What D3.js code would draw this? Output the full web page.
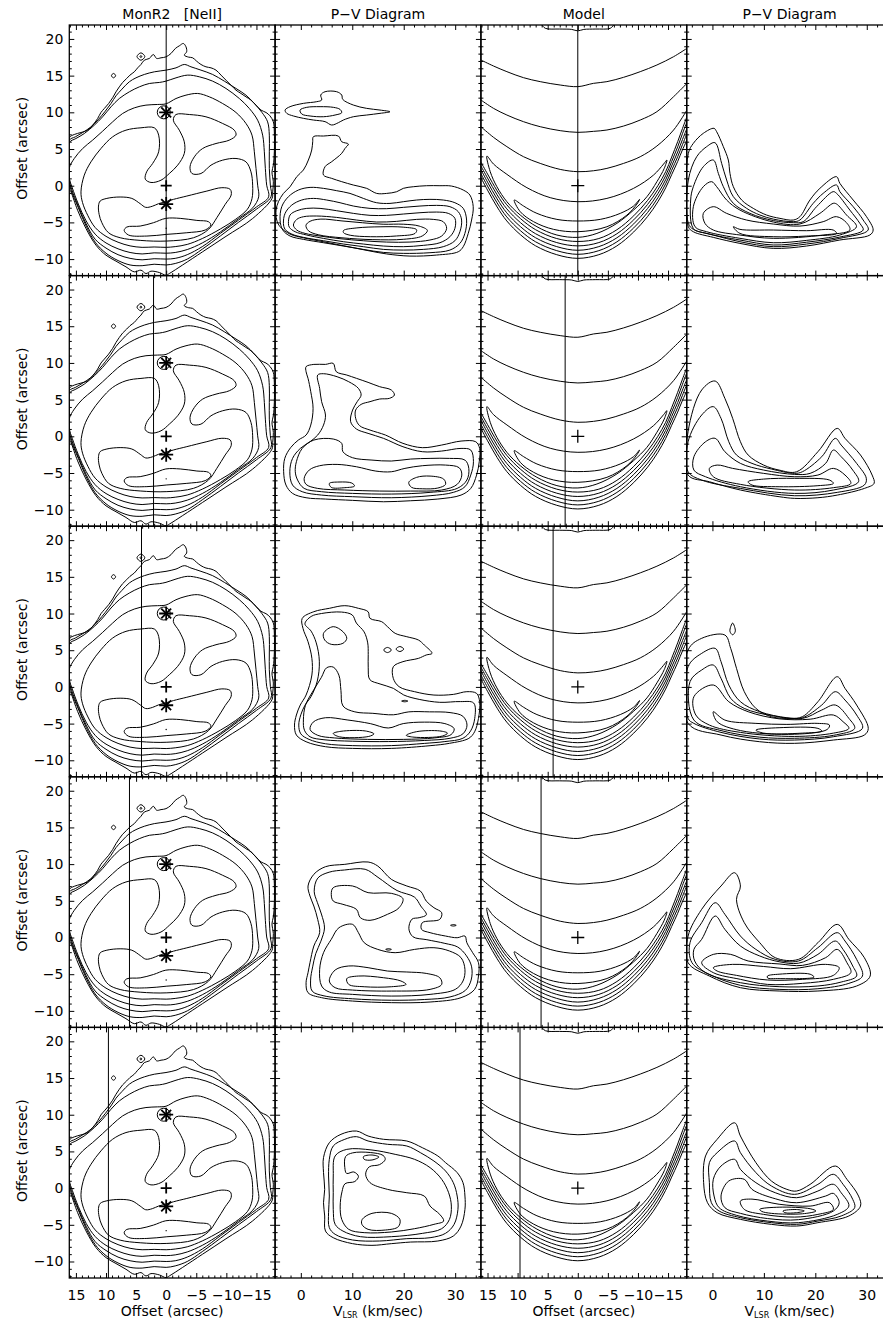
<!DOCTYPE html>
<html><head><meta charset="utf-8">
<script src="https://cdn.jsdelivr.net/npm/d3@7"></script>
<style>body{margin:0;background:#fff}</style>
</head><body>
<script>
// ---------------- DATA ----------------
const titles = ["MonR2\u00a0\u00a0\u00a0[NeII]", "P\u2212V Diagram", "Model", "P\u2212V Diagram"];
const offsetDomain = [16.1, -18.1];
const velDomain = [-5, 35];
const yDomain = [-12.25, 21.9];
const offsetTicks = [15, 10, 5, 0, -5, -10, -15];
const velTicks = [0, 10, 20, 30];
const yTicks = [20, 15, 10, 5, 0, -5, -10];
const slitOffsets = [0, 2.1, 4.1, 6.1, 9.6];

// Column 1: [NeII] map contours (offset, offset)
const neiiL1 = [[16.1,6.52],[15.27,6.98],[14.16,7.25],[13.05,7.57],[12.22,8.25],[11.39,9.16],[10.84,9.98],[10.28,10.52],[9.56,11.2],[8.9,11.98],[8.34,12.79],[7.79,13.47],[7.24,14.07],[6.57,14.61],[6.02,15.07],[5.3,15.52],[4.74,16.06],[4.19,16.52],[3.63,17.11],[2.8,17.34],[2.14,17.88],[1.58,17.34],[0.86,17.43],[0.03,17.56],[-0.8,18.02],[-1.52,18.7],[-2.18,19.06],[-2.85,19.38],[-3.29,18.93],[-3.4,18.25],[-3.01,17.79],[-3.73,17.52],[-4.4,17.43],[-5.06,16.97],[-5.78,16.52],[-6.61,16.2],[-7.45,16.06],[-8.28,15.75],[-9.11,15.07],[-9.94,14.38],[-10.77,13.7],[-11.6,13.02],[-12.43,12.57],[-13.26,12.11],[-14.09,11.66],[-14.93,10.98],[-15.76,10.3],[-16.59,9.98],[-17.25,9.52],[-17.81,8.7],[-17.97,7.34],[-17.97,4.62],[-17.81,2.8],[-17.58,1.89],[-17.81,0.53],[-17.7,-0.84],[-17.58,-1.75],[-14.37,-4.47],[-9.94,-6.9],[-6.06,-9.0],[-2.74,-10.8],[-0.52,-11.97],[0.03,-12.2],[1.14,-11.83],[2.53,-11.65],[3.36,-11.97],[4.19,-11.51],[5.3,-11.74],[6.68,-11.06],[8.34,-10.28],[10.0,-9.47],[11.67,-8.1],[13.33,-5.83],[14.72,-3.34],[15.82,-0.84],[16.1,-0.38]];
const neiiL2 = [[16.1,6.21],[15.1,6.66],[13.88,7.25],[12.5,8.02],[11.22,9.07],[10.12,10.16],[9.17,11.2],[8.34,12.25],[7.35,13.16],[6.13,14.16],[5.02,14.7],[3.63,15.16],[1.97,15.52],[0.03,15.75],[-1.63,16.06],[-3.01,16.52],[-4.12,16.2],[-5.78,15.75],[-7.72,15.16],[-9.66,14.25],[-11.6,13.25],[-13.26,12.34],[-14.65,11.2],[-15.92,9.98],[-16.86,8.7],[-17.14,6.89],[-17.14,4.62],[-17.14,2.34],[-17.31,0.07],[-17.42,-1.52],[-15,-3.2],[-12,-5.0],[-9,-6.85],[-6,-8.65],[-3.5,-10.0],[-1.5,-10.6],[0,-10.8],[2,-10.7],[4,-10.9],[6,-10.8],[8,-10.2],[10,-9.2],[11.8,-7.7],[13.3,-5.5],[14.6,-3.0],[15.8,-0.6],[16.1,0.5],[16.1,3.5]];
const neiiL3 = [[16.1,5.89],[15.0,6.43],[13.61,7.11],[11.94,8.25],[10.56,9.39],[9.17,10.75],[7.79,11.88],[6.13,12.79],[4.47,13.47],[2.8,13.93],[1.14,14.07],[0.03,14.25],[-1.63,14.7],[-3.57,15.07],[-5.51,14.84],[-7.72,14.25],[-9.94,13.25],[-12.16,11.88],[-13.82,10.52],[-15.2,8.93],[-16.03,6.89],[-16.31,4.62],[-16.48,2.34],[-16.7,0.07],[-17.03,-1.52],[-15,-2.9],[-12,-4.7],[-9,-6.5],[-6,-8.3],[-3.5,-9.4],[-1.5,-9.9],[0,-10.0],[2,-9.95],[4,-10.1],[6,-9.9],[8,-9.4],[10,-8.5],[11.8,-7.3],[13.3,-5.2],[14.6,-2.8],[15.7,-0.5],[16.1,0.8],[16.1,3.5]];
const neiiL4 = [[16.1,2.43],[15.27,3.71],[13.88,5.07],[12.22,6.21],[10.56,7.43],[8.9,8.7],[7.24,9.84],[5.3,10.61],[3.36,10.98],[1.42,11.07],[0.03,11.16],[-1.63,11.88],[-3.29,12.34],[-5.23,12.57],[-7.17,12.11],[-9.38,11.2],[-11.6,9.98],[-13.26,8.48],[-14.26,6.89],[-14.65,4.62],[-14.93,2.34],[-15.2,0.07],[-15.37,-1.52],[-14.4,-3.0],[-12,-4.5],[-9,-6.3],[-6,-7.8],[-3.5,-8.7],[-1.5,-9.1],[0,-9.2],[2,-9.15],[4,-9.3],[6,-9.1],[8,-8.6],[10,-7.8],[11.8,-6.6],[13.3,-4.8],[14.6,-2.5],[15.6,-0.3],[16.1,1.0]];
const neiiL5 = [[14.16,-0.84],[13.61,1.44],[12.5,3.25],[10.84,5.07],[8.9,6.66],[6.68,7.57],[4.19,7.89],[1.97,7.89],[1.25,6.89],[1.25,4.62],[2.25,3.03],[3.25,1.89],[3.47,0.89],[2.53,0.44],[0.86,0.75],[-0.52,1.66],[-1.91,2.8],[-3.01,4.39],[-3.01,5.98],[-2.18,7.57],[-1.19,8.93],[-1.63,9.7],[-3.84,9.7],[-6.61,9.39],[-9.38,8.48],[-11.32,7.57],[-11.6,6.89],[-10.49,6.21],[-8.28,5.75],[-6.06,5.07],[-4.68,3.93],[-3.96,2.57],[-4.29,1.66],[-5.78,1.66],[-7.45,2.8],[-9.38,3.48],[-11.6,3.71],[-13.26,3.25],[-14.09,1.89],[-14.37,0.07],[-14.26,-1.75],[-13.5,-3.2],[-11.5,-4.6],[-9,-5.9],[-6,-7.2],[-3.5,-8.0],[-1.5,-8.3],[0,-8.4],[2,-8.35],[4,-8.4],[6,-8.2],[8,-7.7],[10,-6.9],[11.8,-5.7],[13.0,-4.1],[13.9,-2.3]];
const neiiL6 = [[11.25,-2.77],[10.97,-2.09],[9.86,-1.73],[7.65,-1.54],[5.71,-1.73],[4.32,-2.45],[3.4,-2.95],[2.3,-2.8],[1.27,-2.45],[0.06,-2.18],[-1.22,-1.86],[-3.43,-1.41],[-6.76,-0.73],[-9.25,-0.27],[-10.64,-0.5],[-10.8,-1.27],[-9.81,-2.54],[-8.42,-4.36],[-7.04,-5.95],[-4.54,-7.09],[-0.11,-7.54],[4.32,-7.45],[7.65,-7.09],[9.58,-6.41],[10.69,-5.04],[11.14,-3.91]];
const neiiL7 = [[6.98,-6.09],[6.54,-5.63],[4.32,-5.5],[2.11,-5.04],[0.06,-4.45],[-2.33,-4.45],[-5.1,-4.73],[-7.04,-4.91],[-7.42,-5.36],[-6.48,-6.04],[-3.43,-6.41],[-0.11,-6.63],[3.21,-6.86],[6.26,-6.72]];
const neiiSpeck1 = [[9.1,15.0],[8.75,15.3],[8.4,15.0],[8.75,14.7]];
const neiiSpeck2 = [[4.85,17.6],[4.2,18.1],[3.55,17.6],[4.2,17.1]];
const neiiSpeck3 = [[4.35,17.6],[4.2,17.75],[4.05,17.6],[4.2,17.45]];
const starMarks = [[0,10],[0,-2.5]];
const circleMarks = [[0.4,10]];
const plusMarks = [[0,0]];
const dotMarks = [[0,-5.8]];

// Column 3: model map
const modelM1 = [[16.1,17.13],[14.0,16.31],[11.78,15.54],[9.01,14.72],[6.24,14.18],[2.92,13.72],[-0.02,13.5],[-2.62,13.95],[-4.84,14.18],[-7.61,14.77],[-10.38,15.54],[-13.15,16.45],[-15.92,17.58],[-18.14,18.72]];
const modelM2 = [[16.1,11.68],[14.0,10.54],[11.78,9.63],[9.01,8.72],[6.24,8.04],[2.92,7.5],[-0.02,7.27],[-2.62,7.41],[-4.84,7.59],[-7.61,8.13],[-10.38,8.95],[-13.15,10.09],[-15.92,12.13],[-18.14,13.95]];
const modelM3 = [[16.1,8.04],[14.0,6.59],[11.78,5.32],[9.01,3.95],[6.24,3.04],[2.92,2.22],[-0.02,1.91],[-2.62,2.04],[-4.84,2.36],[-7.61,3.04],[-10.38,3.95],[-13.15,5.41],[-15.92,7.59],[-18.14,10.31]];
const modelShell0 = [[16.1,3.2],[15.0,1.6],[13.4,-0.7],[11.8,-2.6],[9.5,-4.5],[7.0,-6.0],[3.5,-7.2],[0,-7.6],[-3.5,-7.2],[-6.5,-6.0],[-9.3,-4.1],[-11.6,-2.0],[-13.3,0.0],[-14.6,1.9],[-15.6,3.9],[-16.6,6.0],[-17.4,7.8],[-18.14,9.4]];
const modelShell1 = [[16.1,2.7],[15.0,1.05],[13.4,-1.25],[11.8,-3.15],[9.5,-5.05],[7.0,-6.55],[3.5,-7.75],[0,-8.2],[-3.5,-7.75],[-6.5,-6.55],[-9.3,-4.65],[-11.6,-2.55],[-13.3,-0.55],[-14.6,1.35],[-15.6,3.3],[-16.6,5.3],[-17.4,7.1],[-18.14,8.7]];
const modelShell2 = [[16.1,2.2],[15.0,0.5],[13.4,-1.8],[11.8,-3.7],[9.5,-5.6],[7.0,-7.1],[3.5,-8.3],[0,-8.8],[-3.5,-8.3],[-6.5,-7.1],[-9.3,-5.2],[-11.6,-3.1],[-13.3,-1.1],[-14.6,0.8],[-15.6,2.7],[-16.6,4.6],[-17.4,6.3],[-18.14,7.8]];
const modelShell3 = [[16.1,1.65],[15.0,-0.05],[13.4,-2.35],[11.8,-4.25],[9.5,-6.15],[7.0,-7.65],[3.5,-8.85],[0,-9.35],[-3.5,-8.85],[-6.5,-7.65],[-9.3,-5.75],[-11.6,-3.65],[-13.3,-1.65],[-14.6,0.25],[-15.6,2.1],[-16.6,3.95],[-17.4,5.6],[-18.14,7.1]];
const modelShell4 = [[16.1,1.1],[15.0,-0.6],[13.4,-2.9],[11.8,-4.8],[9.5,-6.7],[7.0,-8.2],[3.5,-9.4],[0,-9.9],[-3.5,-9.4],[-6.5,-8.2],[-9.3,-6.3],[-11.6,-4.2],[-13.3,-2.2],[-14.6,-0.3],[-15.6,1.5],[-16.6,3.3],[-17.4,4.9],[-18.14,6.2]];
const modelEdge = [[6.0,21.95],[5.4,21.45],[3,21.35],[1,21.3],[0,21.1],[-1,21.3],[-3,21.35],[-5.4,21.45],[-6.0,21.95]];
const modelCrescentOuter = [[15.1,4.04],[14.0,2.95],[11.78,1.55],[8.45,-0.27],[4.58,-1.63],[-0.02,-2.18],[-4.84,-1.73],[-9.27,-0.36],[-12.6,1.46],[-14.26,2.95],[-14.81,3.5],[-14.37,2.36],[-13.15,0.55],[-11.49,-1.5],[-9.27,-3.32],[-6.5,-5.13],[-3.18,-6.5],[-0.02,-7.04],[3.47,-6.72],[6.79,-5.59],[9.56,-4.0],[11.78,-2.18],[13.44,-0.14],[14.55,1.91]];
const modelCrescentInner = [[10.56,-1.95],[9.01,-2.77],[6.79,-3.77],[3.47,-4.59],[-0.02,-4.81],[-3.73,-4.59],[-7.06,-3.77],[-9.27,-2.77],[-10.27,-1.86],[-9.83,-2.5],[-8.17,-4.0],[-4.84,-5.59],[-0.02,-6.27],[4.02,-5.95],[7.35,-4.9],[9.56,-3.54]];

// Column 2: observed P-V diagrams (velocity, offset), one set per row
const pv1Blob = [[-3.06,10.31],[-2.09,10.77],[0.5,11.22],[3.09,11.45],[4.06,11.68],[3.87,12.36],[4.71,12.81],[6.97,12.81],[7.95,12.36],[8.14,11.77],[10.21,10.99],[12.8,10.54],[15.39,10.31],[17.33,10.08],[15.39,9.86],[12.8,9.63],[10.21,9.4],[8.27,8.95],[7.3,8.59],[6.0,8.27],[4.71,8.73],[2.44,8.95],[0.5,9.18],[-1.44,9.5],[-2.73,9.86]];
const pv1BlobIn = [[-0.15,10.31],[1.15,10.68],[3.74,10.77],[6.33,10.68],[7.62,10.4],[7.95,9.95],[6.65,9.63],[4.39,9.4],[1.8,9.5],[0.18,9.77]];
const pv1C1 = [[2.44,6.68],[4.39,6.77],[7.3,6.77],[7.95,5.99],[9.24,5.68],[8.59,5.09],[7.95,4.41],[6.0,3.27],[4.71,2.59],[4.39,1.46],[6.0,1.0],[7.95,0.55],[10.21,0.09],[12.8,-0.36],[14.74,-1.05],[16.68,-1.05],[18.63,-0.82],[19.92,-0.36],[21.86,-0.14],[24.45,0.0],[27.04,0.0],[29.3,-0.05],[31.57,-0.59],[32.86,-1.27],[33.51,-2.86],[33.19,-4.68],[32.54,-6.5],[31.57,-8.31],[30.6,-9.0],[26.39,-9.45],[21.21,-9.59],[16.68,-9.3],[13.45,-8.9],[10.21,-8.45],[6.97,-8.0],[3.74,-7.55],[0.5,-7.1],[-2.09,-6.6],[-4.03,-5.59],[-4.68,-4.68],[-4.81,-3.32],[-4.35,-2.18],[-3.38,-1.05],[-2.09,-0.14],[-0.79,1.23],[0.5,2.14],[1.47,3.5],[2.12,4.86],[2.31,6.0]];
const pv1C2 = [[-4.03,-4.68],[-3.71,-2.86],[-2.41,-1.5],[-0.47,-0.59],[1.8,-0.23],[4.39,-0.36],[6.97,-0.68],[9.56,-1.05],[12.15,-1.73],[14.74,-2.32],[17.33,-2.41],[19.92,-2.18],[22.51,-1.95],[25.1,-1.86],[27.69,-1.95],[29.95,-2.32],[31.57,-3.09],[32.22,-4.68],[31.89,-6.5],[30.92,-7.86],[28.98,-8.77],[25.1,-9.13],[19.92,-9.22],[16.04,-9.09],[12.15,-8.68],[8.27,-8.22],[4.39,-7.77],[0.5,-7.31],[-2.09,-6.86],[-3.51,-6.04]];
const pv1C3 = [[-3.38,-5.13],[-3.06,-3.77],[-1.76,-2.64],[0.18,-1.95],[2.44,-1.73],[5.03,-1.95],[7.62,-2.32],[10.21,-2.77],[13.45,-3.09],[16.68,-3.13],[19.92,-2.95],[23.16,-2.77],[26.39,-2.68],[28.98,-2.86],[30.6,-3.54],[31.25,-4.68],[30.92,-6.27],[29.95,-7.5],[27.69,-8.31],[23.8,-8.68],[19.92,-8.77],[16.04,-8.68],[12.15,-8.31],[8.27,-7.95],[4.39,-7.5],[0.5,-7.04],[-1.76,-6.59],[-3.06,-5.95]];
const pv1C4 = [[-2.41,-5.13],[-2.09,-3.99],[-0.79,-3.41],[1.15,-3.09],[3.74,-3.09],[6.97,-3.41],[10.21,-3.77],[13.45,-4.04],[16.68,-4.04],[19.92,-3.86],[23.16,-3.68],[26.39,-3.59],[28.66,-3.77],[29.95,-4.45],[29.95,-5.81],[28.98,-6.95],[27.04,-7.77],[23.8,-8.13],[19.92,-8.31],[16.04,-8.22],[12.15,-7.95],[8.27,-7.63],[4.39,-7.18],[1.15,-6.72],[-1.12,-6.27],[-2.22,-5.68]];
const pv1C5 = [[-1.44,-5.36],[-0.79,-4.59],[0.5,-4.23],[3.09,-4.13],[6.97,-4.32],[10.86,-4.68],[14.74,-4.95],[18.63,-4.86],[22.51,-4.59],[25.74,-4.59],[27.69,-4.91],[28.34,-5.81],[27.37,-6.86],[25.1,-7.4],[21.21,-7.68],[16.68,-7.68],[12.15,-7.5],[7.62,-7.22],[3.74,-6.86],[0.83,-6.5],[-0.79,-6.04]];
const pv1C6 = [[1.0,-5.4],[1.8,-4.85],[3.9,-4.55],[8,-4.8],[12,-5.05],[16,-5.25],[20,-5.25],[23,-5.5],[24.6,-6.1],[23.6,-6.85],[20,-7.3],[14,-7.35],[8,-7.1],[3.5,-6.7],[1.5,-6.15]];
const pv1C7 = [[8.3,-6.1],[10.9,-5.75],[15.4,-5.6],[19.9,-5.65],[22.5,-6.0],[22.2,-6.5],[18.6,-6.85],[13.5,-6.95],[9.6,-6.75],[8.3,-6.4]];

const pv2A = [[1.02,9.49],[2.53,9.8],[4.79,9.8],[6.3,9.94],[6.9,8.8],[8.93,8.35],[10.81,7.9],[13.07,7.35],[15.33,6.76],[17.59,6.31],[18.19,5.62],[17.21,5.17],[15.33,5.08],[13.45,4.72],[11.72,4.35],[10.66,3.58],[10.66,2.45],[11.42,1.45],[13.45,0.85],[16.46,0.17],[19.85,-0.96],[23.61,-1.55],[27.38,-1.19],[31.14,-0.65],[34.0,-0.74],[34.76,-1.65],[34.68,-3.46],[34.16,-5.28],[33.03,-7.1],[31.14,-8.01],[26.63,-8.55],[21.36,-8.78],[16.08,-8.92],[10.06,-8.73],[4.79,-8.55],[1.02,-8.37],[-1.61,-7.78],[-2.89,-6.64],[-3.34,-4.83],[-3.12,-3.01],[-1.99,-1.55],[-0.48,-0.51],[1.02,0.17],[1.93,1.53],[2.38,3.81],[1.93,6.08],[1.4,7.9],[1.02,8.8]];
const pv2B = [[3.28,8.35],[4.41,8.53],[7.05,8.12],[9.31,7.44],[11.19,6.53],[11.72,5.62],[10.96,4.72],[10.06,3.58],[9.68,1.99],[10.81,0.99],[13.07,0.4],[16.08,-0.28],[19.85,-1.42],[23.61,-2.1],[27.38,-2.01],[31.14,-1.65],[33.03,-1.87],[33.55,-3.46],[33.03,-5.28],[31.9,-6.87],[29.64,-7.64],[25.12,-8.1],[17.59,-8.37],[10.06,-8.23],[4.04,-8.01],[0.27,-7.55],[-1.61,-6.64],[-2.14,-4.83],[-1.61,-3.01],[-0.1,-1.65],[1.78,-0.74],[3.28,0.17],[4.41,1.53],[4.79,2.9],[4.04,4.72],[3.66,6.53]];
const pv2C = [[-0.86,-3.46],[0.27,-1.65],[2.53,-0.51],[6.3,-0.37],[7.95,-0.96],[8.18,-2.1],[10.06,-2.92],[13.83,-3.24],[17.59,-3.37],[21.36,-3.1],[25.12,-3.01],[28.89,-3.01],[31.9,-3.24],[32.65,-4.37],[32.27,-5.96],[30.39,-7.1],[25.12,-7.64],[17.59,-7.87],[10.06,-7.78],[4.04,-7.55],[0.65,-7.1],[-0.63,-5.96],[-1.08,-4.83]];
const pv2D = [[0.65,-5.73],[1.63,-4.6],[3.66,-4.01],[7.05,-3.83],[10.81,-4.15],[14.58,-4.74],[17.59,-4.83],[20.23,-4.37],[23.61,-4.01],[28.13,-3.92],[30.77,-4.28],[31.29,-5.28],[30.39,-6.55],[27.38,-7.32],[21.36,-7.46],[15.33,-7.46],[8.55,-7.32],[3.28,-7.1],[1.02,-6.55]];
const pv2E1 = [[5.54,-6.42],[7.42,-6.23],[9.91,-6.37],[10.44,-6.78],[8.55,-7.0],[5.92,-6.96]];
const pv2E2 = [[20.98,-6.28],[22.48,-5.6],[25.12,-5.42],[27.76,-5.83],[28.13,-6.55],[26.63,-7.05],[23.61,-7.15],[21.51,-6.95]];

const pv3A = [[0.27,9.34],[2.53,10.25],[5.54,10.71],[8.55,11.07],[11.19,10.71],[13.07,10.25],[13.45,9.34],[15.71,8.89],[16.84,8.21],[18.34,7.3],[20.6,6.84],[22.86,6.39],[23.99,5.71],[25.5,4.57],[24.37,4.35],[22.86,3.89],[19.85,3.44],[17.97,2.75],[17.97,1.17],[19.1,0.03],[22.11,-0.65],[25.87,-1.11],[29.64,-1.02],[32.27,-0.65],[34.16,-0.88],[34.76,-2.02],[34.53,-4.29],[33.78,-6.11],[32.65,-7.01],[28.89,-7.69],[25.12,-8.01],[17.59,-8.38],[10.06,-8.38],[4.79,-8.15],[1.02,-7.47],[-0.86,-6.56],[-1.23,-5.2],[-0.86,-3.83],[-0.11,-2.47],[1.02,-1.11],[2.15,1.62],[2.15,3.89],[1.4,6.16],[0.42,7.98]];
const pv3B = [[0.8,8.6],[2.0,9.6],[4.0,10.0],[7.9,10.2],[10.0,9.8],[10.8,8.7],[12.3,7.5],[13.0,6.0],[13.1,4.4],[13.1,2.6],[13.4,1.0],[15.4,0.4],[18.0,-0.2],[20,-1.1],[23,-1.7],[27,-2.1],[31,-2.0],[33.6,-2.2],[33.8,-4.3],[33,-6],[31.5,-7.0],[28,-7.45],[24,-7.7],[17.6,-8.0],[10,-8.0],[4.8,-7.75],[1.6,-7.15],[0,-6.4],[-0.4,-5.2],[0,-3.8],[0.8,-2.5],[2.0,-1.3],[3.2,0.8],[3.6,3.5],[3.0,6.0],[2.0,7.6]];
const pv3Hole = [[4.41,7.3],[6.3,8.21],[8.18,7.53],[8.93,6.62],[8.18,5.94],[5.92,5.8],[4.64,6.39]];
const pv3C = [[0.5,-4.5],[0.9,-2.5],[2.6,-0.3],[4.0,1.3],[5.0,2.6],[6.3,2.7],[7.4,1.6],[7.8,-0.5],[8.2,-2.6],[10.5,-3.4],[14,-3.6],[18,-3.8],[21,-3.4],[25,-3.4],[29,-3.5],[31.5,-4.0],[32.3,-5.2],[31.5,-6.4],[29,-7.0],[24,-7.3],[17,-7.45],[10,-7.4],[4.5,-7.2],[1.8,-6.8],[0.7,-5.9]];
const pv3D = [[1.8,-5.8],[2.4,-4.8],[4.8,-4.2],[9,-4.5],[13.5,-5.0],[17,-5.6],[19.9,-5.0],[24,-4.8],[28,-5.0],[29.8,-5.7],[29.2,-6.5],[26,-6.95],[20,-7.15],[13,-7.15],[6.5,-6.95],[3.3,-6.6]];
const pv3E1 = [[6.3,-6.35],[7.8,-6.05],[12.5,-6.0],[14.2,-6.4],[13.2,-6.75],[7.5,-6.8]];
const pv3E2 = [[20.5,-6.6],[22.5,-6.1],[27,-6.0],[28.5,-6.3],[27.5,-6.7],[22,-6.85]];
const pv3Spot1 = [[16.1,5.03],[16.84,5.38],[17.6,5.03],[16.84,4.68]];
const pv3Spot2 = [[18.5,5.16],[19.25,5.5],[20.0,5.16],[19.25,4.82]];
const pv3Dash = [[19.6,-1.93],[20.2,-1.83],[20.8,-1.93],[20.2,-2.03]];

const pv4A = [[1.4,7.02],[2.53,8.61],[4.79,9.65],[8.55,9.97],[13.07,10.29],[14.96,9.74],[17.59,7.93],[20.6,7.02],[23.24,6.33],[24.37,4.97],[25.87,4.06],[27.38,3.38],[27.0,2.47],[23.61,2.02],[23.46,1.11],[25.12,0.66],[28.13,0.2],[30.39,-0.03],[31.9,0.2],[32.27,-0.71],[33.4,-2.07],[34.53,-3.43],[34.53,-5.25],[33.78,-7.07],[31.14,-8.2],[25.12,-8.79],[17.59,-8.88],[10.06,-8.66],[4.04,-8.2],[1.4,-7.52],[1.02,-6.16],[1.4,-4.8],[1.78,-3.43],[2.53,-1.16],[3.66,0.66],[3.28,2.47],[2.53,4.29],[1.78,5.65]];
const pv4B = [[2.6,6.3],[3.3,8.1],[5.5,8.9],[8.5,9.2],[12.5,9.3],[15.0,8.2],[18.7,6.4],[22.1,5.5],[23.3,4.3],[24.4,3.1],[23,2.7],[21.6,2.5],[21.0,1.2],[21.8,0.1],[24.5,-0.3],[28,-0.8],[30.5,-1.3],[32.2,-2.5],[33.2,-4.0],[33.1,-5.8],[32,-7.2],[29,-8.1],[24,-8.45],[17.6,-8.55],[10,-8.35],[4.5,-7.95],[2.2,-7.3],[1.9,-5.8],[2.3,-4.0],[2.9,-2.2],[3.9,-0.5],[4.6,1.3],[4.0,3.2],[3.2,4.8]];
const pv4Hole = [[5.92,5.88],[6.3,6.79],[10.06,7.02],[13.07,6.11],[17.59,6.02],[19.85,5.29],[19.1,4.06],[16.84,3.16],[13.45,2.34],[11.57,2.7],[10.81,3.84],[8.18,4.52],[6.3,4.97]];
const pv4C = [[4.04,-6.61],[3.66,-4.34],[4.41,-2.07],[5.92,-0.25],[7.42,1.34],[10.06,1.79],[11.19,0.66],[12.32,-0.71],[14.96,-1.62],[18.34,-2.07],[22.11,-1.62],[25.87,-1.39],[28.89,-1.84],[31.14,-2.75],[31.9,-4.34],[31.52,-5.93],[30.02,-7.07],[25.12,-7.75],[17.59,-7.98],[10.06,-7.75],[5.54,-7.43]];
const pv4D = [[5.54,-5.93],[6.67,-4.43],[9.31,-3.88],[13.07,-4.11],[16.84,-4.57],[20.6,-4.7],[24.37,-4.89],[27.0,-5.48],[27.38,-6.39],[25.12,-7.07],[17.59,-7.3],[10.06,-7.16],[6.67,-6.84]];
const pv4E = [[8.93,-5.61],[11.19,-5.25],[16.08,-5.48],[19.47,-5.93],[20.45,-6.39],[17.59,-6.71],[12.32,-6.71],[9.31,-6.39]];
const pv4Dash1 = [[29.1,1.66],[29.64,1.76],[30.2,1.66],[29.64,1.56]];
const pv4Dash2 = [[16.5,-1.62],[17.06,-1.52],[17.6,-1.62],[17.06,-1.72]];

const pv5A = [[4.41,4.15],[5.54,6.19],[7.8,7.33],[10.81,7.78],[13.07,7.1],[16.08,6.65],[20.6,6.42],[23.61,5.51],[26.63,4.38],[28.13,3.47],[30.39,2.11],[31.52,0.74],[31.9,-1.08],[31.9,-2.9],[31.14,-5.17],[29.64,-6.53],[26.63,-7.21],[21.36,-7.35],[17.59,-7.57],[13.83,-7.8],[10.06,-7.57],[6.3,-6.76],[4.79,-5.85],[4.64,-3.8],[4.41,-1.99],[4.64,-0.17],[4.41,2.11]];
const pv5B = [[5.54,3.92],[6.3,5.74],[8.55,6.65],[10.81,7.01],[13.07,6.42],[16.84,5.97],[20.6,5.74],[23.24,4.83],[25.87,3.69],[28.13,2.33],[29.64,0.74],[30.39,-1.08],[30.54,-2.9],[29.79,-4.94],[28.13,-6.16],[25.12,-6.76],[20.6,-6.89],[15.33,-7.21],[10.06,-7.07],[6.67,-6.3],[5.54,-5.39],[5.39,-3.35],[5.54,-1.08],[5.39,1.65]];
const pv5C = [[6.3,1.65],[6.67,4.38],[8.93,5.28],[13.83,5.19],[18.34,4.6],[22.11,3.92],[25.12,2.79],[27.38,1.2],[28.73,-0.63],[29.26,-2.45],[28.89,-4.26],[27.38,-5.53],[23.61,-6.17],[17.59,-6.62],[11.57,-6.62],[8.18,-5.85],[6.67,-4.94],[6.3,-2.9],[6.3,-0.63]];
const pv5D = [[8.55,2.79],[8.7,4.3],[10.06,4.8],[13.5,4.85],[16,4.45],[16.4,3.9],[15.3,3.2],[13.3,2.9],[12.6,1.9],[13.45,0.74],[16.84,-0.17],[20.6,-0.63],[24.0,-1.08],[25.12,-2.45],[27.0,-3.58],[27.76,-4.49],[25.87,-4.94],[22.11,-5.53],[17.59,-5.98],[12.32,-6.07],[9.31,-5.62],[7.95,-4.26],[7.65,-2.45],[8.0,-0.5],[8.6,0.6],[10.5,0.9],[11.2,1.6],[10.3,2.2],[8.9,2.0]];
const pv5Top = [[12.17,4.29],[13.83,4.51],[15.18,4.24],[13.83,3.83],[12.32,3.92]];
const pv5E = [[11.94,-4.26],[13.83,-3.44],[17.59,-3.44],[19.25,-4.26],[18.95,-5.26],[16.46,-5.71],[13.07,-5.62],[11.87,-4.94]];

// Column 4: model P-V diagrams, one set per row
const mpv1P1 = [[-4.68,4.41],[-3.71,5.77],[-1.77,7.14],[0.3,7.82],[0.82,7.36],[2.12,5.32],[3.09,3.5],[3.41,1.68],[4.06,-0.13],[5.68,-1.95],[7.94,-3.09],[10.53,-4.0],[13.12,-4.45],[15.71,-4.68],[17.0,-4.22],[18.95,-1.95],[20.89,-0.36],[24.12,1.23],[24.77,0.32],[27.36,-1.95],[29.95,-4.22],[31.24,-6.04],[30.6,-6.72],[24.77,-7.4],[18.3,-8.22],[11.83,-8.54],[5.35,-7.86],[0.17,-7.04],[-3.71,-6.27],[-4.68,-5.59]];
const mpv1P2 = [[-4.68,0.78],[-3.06,3.95],[-1.12,5.32],[0.5,5.86],[1.79,3.05],[2.76,0.78],[4.06,-1.49],[6.65,-3.09],[9.24,-4.0],[11.83,-4.55],[15.71,-4.9],[17.0,-4.68],[19.59,-2.4],[21.53,-1.04],[24.12,0.1],[24.77,-0.81],[27.36,-2.86],[29.3,-4.68],[30.27,-6.04],[24.77,-7.17],[18.3,-7.95],[11.83,-8.31],[5.35,-7.63],[0.17,-6.72],[-3.71,-5.95],[-4.68,-5.13]];
const mpv1P3 = [[-4.23,-1.95],[-3.71,-0.13],[-1.77,2.59],[0.17,3.5],[1.15,1.68],[2.12,-0.13],[4.06,-2.4],[7.29,-3.77],[11.83,-4.75],[15.71,-5.04],[17.65,-4.9],[20.24,-2.86],[23.48,-0.81],[24.12,-1.04],[26.71,-3.32],[28.65,-5.13],[29.3,-6.04],[24.77,-7.0],[18.3,-7.7],[11.83,-8.08],[5.35,-7.4],[-1.12,-6.5],[-3.71,-5.82]];
const mpv1P4 = [[-3.71,-2.86],[-1.77,-0.13],[-0.15,0.55],[0.82,-0.13],[2.76,-1.95],[5.35,-3.32],[11.83,-4.95],[17.0,-5.22],[20.89,-3.77],[23.48,-2.4],[24.12,-2.49],[26.06,-3.99],[28.0,-5.59],[24.77,-6.72],[18.3,-7.45],[11.83,-7.77],[5.35,-7.17],[-1.12,-6.27],[-3.38,-5.59]];
const mpv1P5 = [[-1.77,-3.77],[0.17,-2.86],[2.76,-3.77],[6.65,-4.68],[11.83,-5.22],[17.0,-5.5],[21.53,-4.9],[24.12,-4.22],[26.06,-5.04],[26.71,-6.04],[21.53,-6.72],[11.83,-7.17],[5.35,-6.72],[0.17,-6.04],[-1.45,-5.13]];
const mpv1P6 = [[4.06,-5.59],[5.35,-5.95],[11.83,-6.04],[18.3,-6.13],[23.48,-6.04],[24.12,-6.5],[18.3,-6.86],[11.83,-6.95],[5.35,-6.5]];

const mpv2Q1 = [[-4.73,0.63],[-2.09,6.31],[0.54,7.53],[2.42,5.17],[3.93,2.45],[5.44,-0.74],[6.94,-2.55],[9.95,-3.92],[12.96,-4.6],[16.36,-4.83],[20.5,-2.1],[24.26,1.08],[25.77,-0.28],[28.78,-2.55],[31.04,-5.28],[31.42,-6.42],[29.53,-7.1],[24.26,-8.01],[20.5,-8.37],[15.98,-8.46],[12.96,-8.23],[5.44,-7.32],[-0.59,-6.19],[-4.73,-5.28]];
const mpv2Q2 = [[-4.73,-0.74],[-2.09,2.9],[0.17,4.04],[1.67,2.45],[3.18,-0.74],[4.68,-2.55],[7.69,-3.69],[11.46,-4.46],[15.98,-5.05],[17.48,-4.83],[21.25,-2.78],[23.89,-0.28],[25.02,-1.19],[28.03,-3.69],[29.91,-5.73],[29.53,-6.64],[24.26,-7.64],[15.98,-8.1],[5.44,-7.1],[-2.09,-5.96],[-4.73,-4.83]];
const mpv2Q3 = [[-3.6,-2.78],[-1.34,-0.74],[0.54,-0.28],[2.42,-2.1],[5.44,-3.69],[9.95,-4.6],[15.98,-5.19],[18.99,-5.05],[22.0,-3.69],[23.51,-1.87],[25.02,-2.78],[27.27,-4.6],[28.4,-6.19],[23.51,-7.32],[15.98,-7.78],[5.44,-6.87],[-1.34,-5.51],[-3.6,-4.6]];
const mpv2Q4 = [[-0.59,-4.37],[0.92,-3.92],[3.93,-4.37],[9.95,-5.05],[15.98,-5.51],[20.5,-5.28],[23.51,-4.37],[25.77,-5.28],[26.9,-6.42],[23.51,-7.0],[15.98,-7.32],[5.44,-6.55],[0.17,-5.51]];
const mpv2Q5 = [[6.94,-6.19],[9.95,-5.83],[15.98,-5.73],[22.75,-5.96],[23.51,-6.42],[20.5,-6.73],[12.96,-6.87],[7.69,-6.64]];

const mpv3R1 = [[-4.73,5.03],[-2.09,6.62],[2.42,7.07],[3.55,5.25],[4.68,2.53],[6.19,-0.65],[8.45,-2.93],[11.46,-4.06],[15.22,-4.29],[17.48,-4.06],[20.5,-2.02],[24.26,1.39],[25.77,-0.2],[28.03,-2.47],[30.29,-5.65],[29.53,-6.56],[23.51,-7.24],[15.98,-7.69],[9.2,-7.47],[1.67,-6.56],[-4.73,-4.97]];
const mpv3R2 = [[-4.73,2.76],[-2.09,4.57],[0.54,5.25],[1.67,3.44],[3.18,0.26],[5.44,-2.02],[9.2,-3.38],[14.47,-4.2],[17.48,-4.2],[21.25,-2.47],[23.89,-0.65],[25.77,-1.79],[28.03,-3.83],[29.16,-5.65],[23.51,-6.79],[15.98,-7.24],[9.2,-7.1],[1.67,-6.2],[-3.6,-4.97],[-4.73,-4.29]];
const mpv3R3 = [[-4.36,0.71],[-2.09,2.3],[0.17,2.98],[1.67,1.17],[3.55,-1.56],[6.19,-2.93],[11.46,-3.9],[17.48,-4.3],[21.25,-3.15],[23.89,-2.47],[26.52,-4.29],[27.65,-5.65],[23.51,-6.6],[15.98,-7.0],[9.2,-6.85],[1.67,-5.95],[-3.6,-4.52]];
const mpv3R4 = [[-3.6,-1.33],[0.17,0.26],[3.18,-2.02],[6.94,-3.38],[12.96,-4.35],[18.99,-4.4],[23.51,-3.83],[25.39,-4.74],[26.52,-5.65],[23.51,-6.3],[15.98,-6.75],[5.44,-6.2],[-0.59,-5.2],[-3.23,-3.83]];
const mpv3R5 = [[0.17,-3.38],[2.42,-4.52],[8.45,-4.97],[14.47,-5.11],[20.5,-4.97],[22.75,-5.2],[22.3,-5.8],[15.98,-6.45],[5.44,-5.95],[0.92,-4.74]];
const mpv3R6 = [[8.45,-5.88],[12.96,-5.56],[20.5,-5.65],[21.25,-6.02],[17.48,-6.3],[9.95,-6.3]];
const mpv3Drop = [[3.93,8.7],[4.45,7.6],[3.93,7.1],[3.4,7.6]];

const mpv4S1 = [[-4.73,0.2],[-2.09,3.84],[1.67,7.02],[4.31,8.83],[5.44,7.02],[4.68,5.2],[6.19,2.02],[9.2,-0.71],[12.21,-2.75],[16.73,-2.98],[20.5,-0.71],[24.26,1.79],[26.52,-0.25],[29.53,-2.75],[30.66,-5.25],[28.03,-6.61],[20.5,-7.29],[12.96,-7.29],[5.44,-6.84],[-0.59,-5.25],[-4.73,-3.43]];
const mpv4S2 = [[-4.36,-0.71],[-2.09,2.02],[0.54,4.74],[2.42,3.16],[5.44,0.2],[8.45,-1.62],[12.21,-2.98],[16.73,-3.2],[20.5,-1.39],[24.26,0.66],[25.77,-0.48],[28.03,-2.98],[29.16,-5.25],[26.52,-6.25],[20.5,-6.98],[12.96,-7.07],[5.44,-6.52],[-0.59,-5.02],[-3.98,-3.43]];
const mpv4S3 = [[-3.6,-1.62],[-2.09,-0.25],[0.54,2.93],[2.42,1.11],[5.44,-1.16],[9.2,-2.52],[12.96,-3.3],[16.73,-3.5],[20.5,-2.3],[23.89,-0.48],[25.39,-1.62],[27.27,-3.88],[28.03,-5.25],[25.02,-6.07],[20.5,-6.61],[12.96,-6.7],[5.44,-6.16],[-1.34,-4.79],[-3.45,-3.2]];
const mpv4S4 = [[-2.09,-3.43],[0.17,-2.3],[3.55,-2.3],[6.94,-3.2],[12.96,-3.6],[17.48,-3.8],[22.0,-2.75],[24.26,-1.62],[26.14,-3.43],[26.9,-4.79],[23.51,-5.7],[17.48,-6.25],[10.7,-6.39],[5.44,-5.7],[0.17,-4.79]];
const mpv4S5 = [[0.17,-4.11],[3.93,-3.66],[9.95,-3.95],[15.22,-4.25],[22.0,-3.66],[24.64,-4.11],[23.51,-5.16],[17.48,-5.7],[10.7,-5.79],[4.68,-5.16],[0.92,-4.57]];
const mpv4S6 = [[10.7,-5.25],[12.96,-5.0],[18.99,-5.0],[19.74,-5.4],[12.96,-5.6],[10.7,-5.5]];

const mpv5T1 = [[-1.34,4.38],[0.92,6.65],[4.31,8.9],[5.44,7.1],[8.45,3.47],[11.46,0.97],[14.47,-0.17],[16.36,-0.4],[18.99,0.51],[23.89,3.01],[26.14,1.2],[28.4,-1.08],[28.78,-2.45],[26.52,-3.8],[20.5,-4.71],[16.36,-5.17],[11.46,-4.94],[5.44,-4.26],[0.92,-3.35],[-0.96,-1.99],[-1.71,0.74]];
const mpv5T2 = [[-0.59,3.47],[0.92,4.83],[4.31,6.42],[5.44,4.83],[8.45,2.11],[11.46,0.29],[15.98,-0.85],[20.5,0.51],[23.51,1.88],[25.39,0.52],[27.27,-1.53],[27.65,-2.67],[25.02,-3.8],[20.5,-4.49],[16.36,-4.94],[11.46,-4.71],[5.44,-4.03],[1.3,-3.12],[-0.21,-1.99],[-0.59,0.74]];
const mpv5T3 = [[0.17,1.2],[1.67,3.01],[4.31,3.92],[5.44,2.56],[8.45,0.74],[12.21,-0.63],[16.36,-1.31],[20.5,-0.4],[23.51,0.52],[25.02,-0.63],[26.52,-2.45],[24.26,-3.58],[16.73,-4.71],[10.7,-4.49],[4.68,-3.71],[1.3,-2.67],[0.32,-1.08]];
const mpv5T4 = [[1.67,-1.08],[3.18,0.97],[6.19,1.2],[7.69,-0.17],[12.21,-1.45],[16.36,-1.99],[22.0,-1.08],[23.51,-0.72],[24.64,-1.99],[23.51,-3.12],[16.73,-4.3],[10.7,-4.15],[5.44,-3.44],[2.42,-2.67]];
const mpv5T5 = [[5.44,-1.76],[7.69,-1.5],[12.96,-2.2],[18.99,-2.45],[22.75,-1.99],[23.51,-2.9],[20.5,-3.58],[15.98,-3.95],[9.95,-3.58],[6.19,-2.9]];
const mpv5T6 = [[9.2,-2.9],[12.96,-2.6],[18.99,-2.81],[20.12,-3.12],[17.48,-3.5],[11.46,-3.44],[9.58,-3.17]];
const mpv5T7 = [[13.72,-3.12],[16.36,-2.92],[17.86,-3.12],[16.36,-3.35],[14.09,-3.35]];

// groupings
const neiiSet = [neiiL1, neiiL2, neiiL3, neiiL4, neiiL5, neiiL6, neiiL7, neiiSpeck1, neiiSpeck2, neiiSpeck3];
const modelOpenSet = [modelM1, modelM2, modelM3, modelShell0, modelShell1, modelShell2, modelShell3, modelShell4, modelEdge];
const modelClosedSet = [modelCrescentOuter, modelCrescentInner];
const pvRows = [
  [pv1Blob, pv1BlobIn, pv1C1, pv1C2, pv1C3, pv1C4, pv1C5, pv1C6, pv1C7],
  [pv2A, pv2B, pv2C, pv2D, pv2E1, pv2E2],
  [pv3A, pv3B, pv3Hole, pv3C, pv3D, pv3E1, pv3E2, pv3Spot1, pv3Spot2, pv3Dash],
  [pv4A, pv4B, pv4Hole, pv4C, pv4D, pv4E, pv4Dash1, pv4Dash2],
  [pv5A, pv5B, pv5C, pv5D, pv5Top, pv5E]
];
const mpvRows = [
  [mpv1P1, mpv1P2, mpv1P3, mpv1P4, mpv1P5, mpv1P6],
  [mpv2Q1, mpv2Q2, mpv2Q3, mpv2Q4, mpv2Q5],
  [mpv3R1, mpv3R2, mpv3R3, mpv3R4, mpv3R5, mpv3R6, mpv3Drop],
  [mpv4S1, mpv4S2, mpv4S3, mpv4S4, mpv4S5, mpv4S6],
  [mpv5T1, mpv5T2, mpv5T3, mpv5T4, mpv5T5, mpv5T6, mpv5T7]
];

// ---------------- DRAWING ----------------
const FONT = "DejaVu Sans, sans-serif";
const L = 69.3, T = 25, PW = 205.8, PH = 250.6;
const svg = d3.select("body").append("svg").attr("width", 883).attr("height", 1326)
  .style("background", "#fff").attr("font-family", FONT);
svg.append("rect").attr("width", 883).attr("height", 1326).attr("fill", "#fff");

const xOff = d3.scaleLinear().domain(offsetDomain).range([0, PW]);
const xVel = d3.scaleLinear().domain(velDomain).range([0, PW]);
const yS = d3.scaleLinear().domain(yDomain).range([PH, 0]);

svg.append("defs").append("clipPath").attr("id", "pclip")
  .append("rect").attr("width", PW).attr("height", PH);

function drawContours(g, xs, sets, closed) {
  const gen = d3.line().x(d => xs(d[0])).y(d => yS(d[1]))
    .curve(closed ? d3.curveCatmullRomClosed.alpha(0.5) : d3.curveCatmullRom.alpha(0.5));
  g.selectAll(null).data(sets).join("path")
    .attr("d", gen).attr("fill", "none").attr("stroke", "#000").attr("stroke-width", 1);
}
function star(g, cx, cy, r, sw) {
  [0, 45, 90, 135].forEach(a => {
    const t = a * Math.PI / 180;
    g.append("line").attr("x1", cx - r * Math.cos(t)).attr("y1", cy - r * Math.sin(t))
      .attr("x2", cx + r * Math.cos(t)).attr("y2", cy + r * Math.sin(t))
      .attr("stroke", "#000").attr("stroke-width", sw);
  });
}
function plus(g, cx, cy, r, sw) {
  g.append("line").attr("x1", cx - r).attr("x2", cx + r).attr("y1", cy).attr("y2", cy).attr("stroke", "#000").attr("stroke-width", sw);
  g.append("line").attr("x1", cx).attr("x2", cx).attr("y1", cy - r).attr("y2", cy + r).attr("stroke", "#000").attr("stroke-width", sw);
}

const fmt = d3.format("d");
function axes(g, xs, majors, minorStep, showX, showY) {
  const xMin = d3.range(Math.ceil(Math.min(...xs.domain())), Math.floor(Math.max(...xs.domain())) + 1)
    .filter(v => v % minorStep === 0 && !majors.includes(v));
  const yMin = d3.range(-12, 22).filter(v => !yTicks.includes(v));
  const sets = [
    [d3.axisBottom(xs).tickValues(majors).tickSize(-5).tickPadding(12).tickFormat(showX ? fmt : () => ""), `translate(0,${PH})`],
    [d3.axisBottom(xs).tickValues(xMin).tickSize(-2.5).tickFormat(() => ""), `translate(0,${PH})`],
    [d3.axisTop(xs).tickValues(majors).tickSize(-5).tickFormat(() => ""), null],
    [d3.axisTop(xs).tickValues(xMin).tickSize(-2.5).tickFormat(() => ""), null],
    [d3.axisLeft(yS).tickValues(yTicks).tickSize(-5).tickPadding(6).tickFormat(showY ? fmt : () => ""), null],
    [d3.axisLeft(yS).tickValues(yMin).tickSize(-2.5).tickFormat(() => ""), null],
    [d3.axisRight(yS).tickValues(yTicks).tickSize(-5).tickFormat(() => ""), `translate(${PW},0)`],
    [d3.axisRight(yS).tickValues(yMin).tickSize(-2.5).tickFormat(() => ""), `translate(${PW},0)`]
  ];
  sets.forEach(([ax, tr]) => {
    const a = g.append("g");
    if (tr) a.attr("transform", tr);
    a.call(ax.tickSizeOuter(0));
    a.select(".domain").remove();
    a.attr("font-family", FONT).attr("font-size", 14);
    a.selectAll(".tick line").attr("stroke", "#000").attr("stroke-width", 1);
    a.selectAll(".tick text").attr("fill", "#000");
  });
  g.append("rect").attr("width", PW).attr("height", PH).attr("fill", "none")
    .attr("stroke", "#000").attr("stroke-width", 1.3);
}

for (let r = 0; r < 5; r++) {
  for (let c = 0; c < 4; c++) {
    const g = svg.append("g").attr("transform", `translate(${L + c * PW},${T + r * PH})`);
    const inner = g.append("g").attr("clip-path", "url(#pclip)");
    const isVel = (c === 1 || c === 3);
    const xs = isVel ? xVel : xOff;
    if (c === 0) {
      drawContours(inner, xOff, neiiSet, true);
      inner.append("line").attr("x1", xOff(slitOffsets[r])).attr("x2", xOff(slitOffsets[r]))
        .attr("y1", 0).attr("y2", PH).attr("stroke", "#000").attr("stroke-width", 1);
      circleMarks.forEach(d => inner.append("circle").attr("cx", xOff(d[0])).attr("cy", yS(d[1])).attr("r", 6.5)
        .attr("fill", "none").attr("stroke", "#000").attr("stroke-width", 1));
      starMarks.forEach(d => star(inner, xOff(d[0]), yS(d[1]), 7, 1.8));
      plusMarks.forEach(d => plus(inner, xOff(d[0]), yS(d[1]), 5.5, 1.8));
      dotMarks.forEach(d => inner.append("circle").attr("cx", xOff(d[0])).attr("cy", yS(d[1])).attr("r", 0.7).attr("fill", "#000"));
    } else if (c === 1) {
      drawContours(inner, xVel, pvRows[r], true);
    } else if (c === 2) {
      drawContours(inner, xOff, modelOpenSet, false);
      drawContours(inner, xOff, modelClosedSet, true);
      inner.append("line").attr("x1", xOff(slitOffsets[r])).attr("x2", xOff(slitOffsets[r]))
        .attr("y1", 0).attr("y2", PH).attr("stroke", "#000").attr("stroke-width", 1);
      plusMarks.forEach(d => plus(inner, xOff(d[0]), yS(d[1]), 6.5, 1.3));
    } else {
      drawContours(inner, xVel, mpvRows[r], true);
    }
    axes(g, xs, isVel ? velTicks : offsetTicks, isVel ? 2 : 1, r === 4, c === 0);
  }
  // y-axis title
  svg.append("text").attr("transform", `translate(27,${T + r * PH + PH / 2 - 2}) rotate(-90)`)
    .attr("text-anchor", "middle").attr("font-size", 14).text("Offset (arcsec)");
}

// column titles
titles.forEach((t, c) => {
  svg.append("text").attr("x", L + c * PW + PW / 2).attr("y", 19).attr("text-anchor", "middle")
    .attr("font-size", 14).text(t);
});
// bottom axis titles
[0, 1, 2, 3].forEach(c => {
  const tx = svg.append("text").attr("x", L + c * PW + PW / 2).attr("y", 1316).attr("text-anchor", "middle").attr("font-size", 14);
  if (c === 0 || c === 2) tx.text("Offset (arcsec)");
  else {
    tx.append("tspan").text("V");
    tx.append("tspan").attr("font-size", 8).attr("dy", 2).text("LSR");
    tx.append("tspan").attr("dy", -2).text(" (km/sec)");
  }
});
</script>
</body></html>
